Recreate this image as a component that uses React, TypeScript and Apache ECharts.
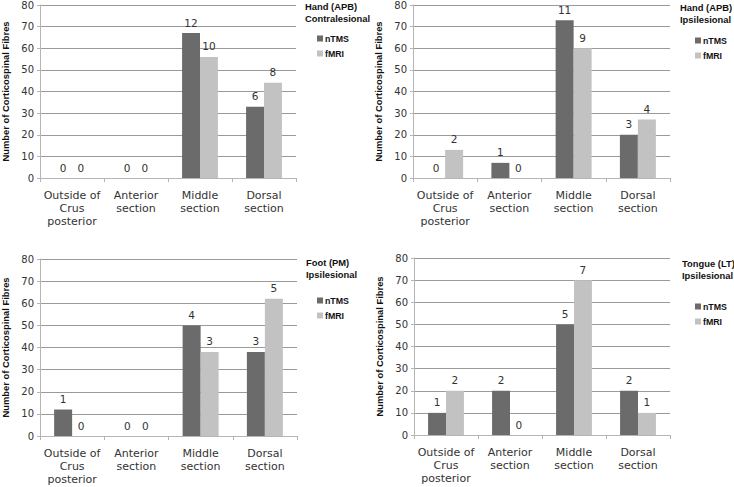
import React, { useEffect, useRef } from "react";
import * as echarts from "echarts";

const categories = ["Outside of\nCrus\nposterior", "Anterior\nsection", "Middle\nsection", "Dorsal\nsection"];
const seriesNames = ["nTMS", "fMRI"];
const yTicks = { min: 0, max: 80, interval: 10 };

// Panel 1: Hand (APB) Contralesional
const handContraNTMS = [0, 0, 67, 33];
const handContraFMRI = [0, 0, 56, 44];
const handContraNTMSLabels = [0, 0, 12, 6];
const handContraFMRILabels = [0, 0, 10, 8];

// Panel 2: Hand (APB) Ipsilesional
const handIpsiNTMS = [0, 7, 73, 20];
const handIpsiFMRI = [13, 0, 60, 27];
const handIpsiNTMSLabels = [0, 1, 11, 3];
const handIpsiFMRILabels = [2, 0, 9, 4];

// Panel 3: Foot (PM) Ipsilesional
const footIpsiNTMS = [12, 0, 50, 38];
const footIpsiFMRI = [0, 0, 38, 62];
const footIpsiNTMSLabels = [1, 0, 4, 3];
const footIpsiFMRILabels = [0, 0, 3, 5];

// Panel 4: Tongue (LT) Ipsilesional
const tongueIpsiNTMS = [10, 20, 50, 20];
const tongueIpsiFMRI = [20, 0, 70, 10];
const tongueIpsiNTMSLabels = [1, 2, 5, 2];
const tongueIpsiFMRILabels = [2, 0, 7, 1];

const titles = [
  ["Hand (APB)", "Contralesional"],
  ["Hand (APB)", "Ipsilesional"],
  ["Foot (PM)", "Ipsilesional"],
  ["Tongue (LT)", "Ipsilesional"],
];

const COLORS = ["#6b6b6b", "#c2c2c2"];

export default function App() {
  const ref = useRef<HTMLDivElement>(null);
  useEffect(() => {
    if (!ref.current) return;
    const chart = echarts.init(ref.current, undefined, { renderer: "svg" });

    const panelData = [
      { v: [handContraNTMS, handContraFMRI], l: [handContraNTMSLabels, handContraFMRILabels] },
      { v: [handIpsiNTMS, handIpsiFMRI], l: [handIpsiNTMSLabels, handIpsiFMRILabels] },
      { v: [footIpsiNTMS, footIpsiFMRI], l: [footIpsiNTMSLabels, footIpsiFMRILabels] },
      { v: [tongueIpsiNTMS, tongueIpsiFMRI], l: [tongueIpsiNTMSLabels, tongueIpsiFMRILabels] },
    ];

    const grids = [
      { left: 40, top: 5, width: 256, height: 173 },
      { left: 413, top: 5, width: 257, height: 173 },
      { left: 40, top: 259, width: 257, height: 177 },
      { left: 414, top: 258, width: 256, height: 177 },
    ];

    const legendPos = [
      { left: 312, top: 29, titleX: 305, titleY: 8 },
      { left: 690, top: 31, titleX: 680, titleY: 9 },
      { left: 312, top: 291, titleX: 306, titleY: 264 },
      { left: 690, top: 297, titleX: 682, titleY: 265 },
    ];

    const xAxis = grids.map((_, i) => ({
      type: "category",
      gridIndex: i,
      data: categories,
      boundaryGap: true,
      axisLine: { lineStyle: { color: "#b5b5b5", width: 1 } },
      axisTick: { show: true, length: 4, lineStyle: { color: "#b5b5b5" } },
      axisLabel: {
        interval: 0,
        fontFamily: "DejaVu Sans",
        fontSize: 11,
        lineHeight: 13,
        color: "#333",
        margin: 11,
      },
    }));

    const yAxis = grids.map((_, i) => ({
      type: "value",
      gridIndex: i,
      min: yTicks.min,
      max: yTicks.max,
      interval: yTicks.interval,
      name: "Number of Corticospinal Fibres",
      nameLocation: "middle",
      nameGap: 30,
      nameTextStyle: { fontFamily: "Liberation Sans", fontWeight: "bold", fontSize: 9.4, color: "#111" },
      axisLine: { show: true, lineStyle: { color: "#b5b5b5" } },
      axisTick: { show: true, length: 3, lineStyle: { color: "#b5b5b5" } },
      axisLabel: { fontFamily: "DejaVu Sans", fontSize: 10, color: "#333", margin: 6 },
      splitLine: { show: true, lineStyle: { color: "#9a9a9a", width: 1 } },
    }));

    const series: any[] = [];
    panelData.forEach((p, i) => {
      [0, 1].forEach((s) => {
        const labels = p.l[s];
        series.push({
          type: "bar",
          name: seriesNames[s],
          xAxisIndex: i,
          yAxisIndex: i,
          data: p.v[s],
          barGap: "0%",
          barCategoryGap: "44%",
          itemStyle: { color: COLORS[s] },
          label: {
            show: true,
            position: "top",
            distance: 5,
            fontFamily: "DejaVu Sans",
            fontSize: 10.5,
            color: "#333",
            formatter: (pp: any) => String(labels[pp.dataIndex]),
          },
        });
      });
    });

    const legend = legendPos.map((lp) => ({
      data: seriesNames,
      orient: "vertical",
      left: lp.left,
      top: lp.top,
      icon: "rect",
      itemWidth: 6,
      itemHeight: 6,
      itemGap: 6,
      selectedMode: false,
      textStyle: {
        fontFamily: "Liberation Sans",
        fontWeight: "bold",
        fontSize: 8.8,
        color: "#111",
        padding: [0, 0, 0, -3],
      },
    }));

    const graphic = legendPos.flatMap((lp, i) =>
      titles[i].map((t, k) => ({
        type: "text",
        left: lp.titleX,
        top: lp.titleY - 6 + k * 12,
        style: {
          text: t,
          font: "bold 9.4px 'Liberation Sans'",
          fill: "#111",
        },
      }))
    );

    chart.setOption({
      animation: false,
      backgroundColor: "#fff",
      grid: grids,
      xAxis,
      yAxis,
      series,
      legend,
      graphic,
    });
    return () => chart.dispose();
  }, []);

  return (
    <div
      ref={ref}
      style={{ position: "fixed", left: 0, top: 0, width: 734, height: 487 }}
    />
  );
}
